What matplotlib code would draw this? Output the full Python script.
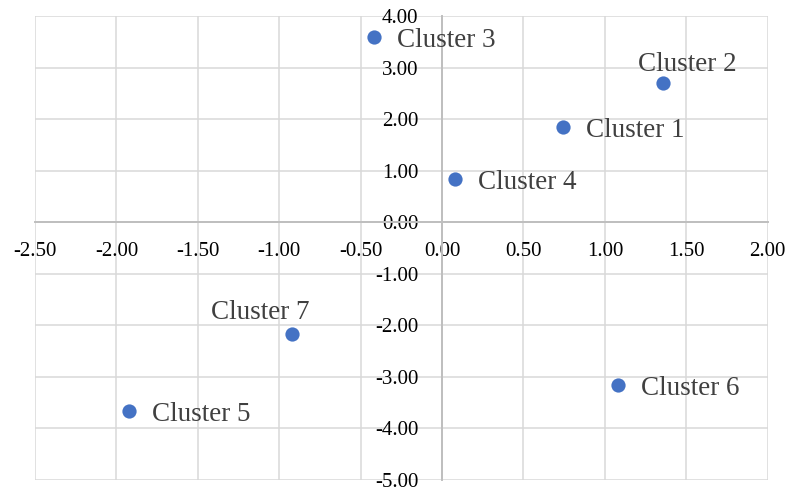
import matplotlib
matplotlib.use("Agg")
import matplotlib.pyplot as plt
import numpy as np

# cluster centres
names = ["Cluster 1", "Cluster 2", "Cluster 3", "Cluster 4",
         "Cluster 5", "Cluster 6", "Cluster 7"]
x_vals = [0.74, 1.36, -0.42, 0.08, -1.92, 1.08, -0.92]
y_vals = [1.85, 2.70, 3.60, 0.84, -3.67, -3.16, -2.16]

x_ticks = np.arange(-2.5, 2.01, 0.5)
y_ticks = np.arange(-5.0, 4.01, 1.0)

# label offsets in pixels (most sit to the right, two sit above)
label_offsets = {
    "Cluster 2": (-25, 12),
    "Cluster 7": (-81, 15),
}
default_offset = (23, -10)

plt.rcParams["font.family"] = ["Liberation Serif", "DejaVu Serif"]

fig = plt.figure(figsize=(7.85, 4.88), dpi=100)
ax = fig.add_axes([35 / 785, 8 / 488, (767.7 - 35) / 785, (480 - 16) / 488])

ax.set_xlim(-2.5, 2.0)
ax.set_ylim(-5.0, 4.0)
ax.set_xticks(x_ticks)
ax.set_yticks(y_ticks)
ax.set_xticklabels([f"{v:.2f}" for v in x_ticks])
ax.set_yticklabels([f"{v:.2f}" for v in y_ticks])

ax.grid(True, color="#d9d9d9", linewidth=1.1, zorder=0)
ax.set_axisbelow(True)

for side in ["top", "right"]:
    ax.spines[side].set_visible(False)
for side in ["left", "bottom"]:
    ax.spines[side].set_position("zero")
    ax.spines[side].set_color("#bfbfbf")
    ax.spines[side].set_linewidth(1.4)

ax.tick_params(axis="both", length=0, labelsize=15, labelcolor="#000000")
ax.tick_params(axis="x", pad=14)
ax.tick_params(axis="y", pad=17)

ax.scatter(x_vals, y_vals, s=105, color="#4472C4", zorder=3, linewidths=0)

for name, x, y in zip(names, x_vals, y_vals):
    dx, dy = label_offsets.get(name, default_offset)
    ax.annotate(name, (x, y), xytext=(dx, dy), textcoords="offset pixels",
                ha="left", va="baseline", fontsize=19.5, color="#404040",
                zorder=4)

fig.savefig("out.png", dpi=100)
